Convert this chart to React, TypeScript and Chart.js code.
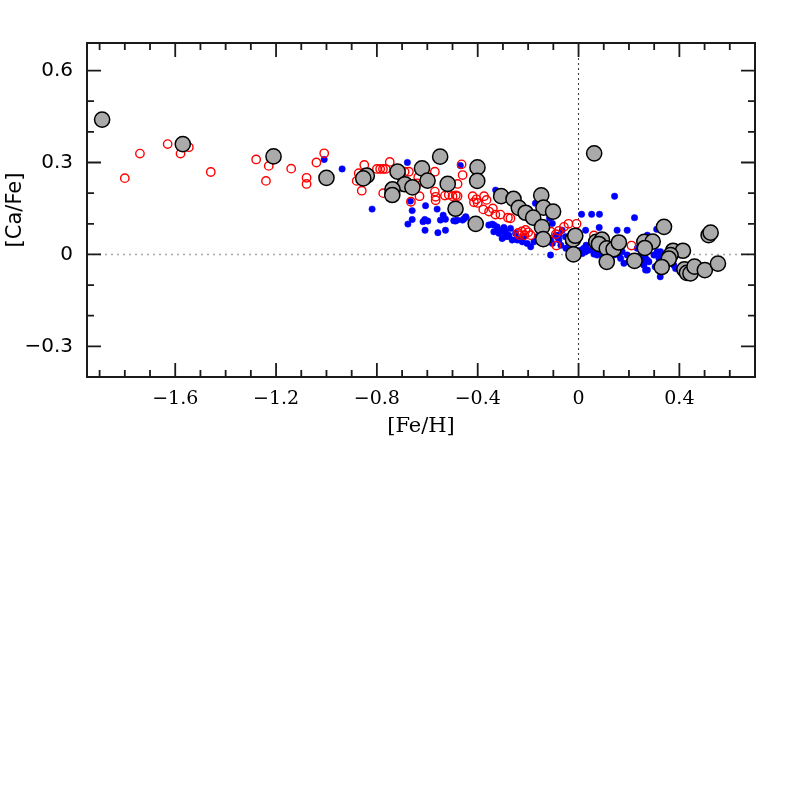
import React, { useEffect, useRef } from "react";
import { Chart, registerables } from "chart.js";

Chart.register(...registerables);

// ---- axis ticks ----
const xMajorTicks = [-1.6, -1.2, -0.8, -0.4, 0, 0.4];
const xTickLabels = ["−1.6", "−1.2", "−0.8", "−0.4", "0", "0.4"];
const xMinorTicks = [-1.9, -1.8, -1.7, -1.5, -1.4, -1.3, -1.1, -1.0, -0.9, -0.7, -0.6, -0.5, -0.3, -0.2, -0.1, 0.1, 0.2, 0.3, 0.5, 0.6];
const yMajorTicks = [-0.3, 0, 0.3, 0.6];
const yTickLabels = ["−0.3", "0", "0.3", "0.6"];
const yMinorTicks = [-0.2, -0.1, 0.1, 0.2, 0.4, 0.5];

// ---- data: [Fe/H], [Ca/Fe] ----
const blueStars: [number, number][] = [
  [-1.009, 0.31], [-0.938, 0.279], [-0.819, 0.148], [-0.679, 0.3], [-0.469, 0.29], [-0.329, 0.21], [-0.171, 0.167],
  [-0.667, 0.174], [-0.66, 0.143], [-0.66, 0.114], [-0.677, 0.099], [-0.607, 0.159], [-0.61, 0.114], [-0.617, 0.107],
  [-0.598, 0.109], [-0.609, 0.079], [-0.558, 0.071], [-0.528, 0.079], [-0.561, 0.148], [-0.537, 0.128], [-0.548, 0.112],
  [-0.528, 0.115], [-0.488, 0.109], [-0.495, 0.11], [-0.455, 0.116], [-0.446, 0.121], [-0.46, 0.112], [-0.448, 0.123],
  [-0.481, 0.112],
  [-0.356, 0.096], [-0.336, 0.096], [-0.323, 0.09], [-0.316, 0.079], [-0.296, 0.088], [-0.29, 0.074], [-0.27, 0.085],
  [-0.25, 0.069], [-0.243, 0.052], [-0.217, 0.058], [-0.204, 0.036], [-0.19, 0.025], [-0.164, 0.058], [-0.138, 0.074],
  [-0.111, 0.047], [-0.104, 0.036], [-0.085, 0.058], [-0.111, -0.002], [-0.303, 0.052], [-0.277, 0.058], [-0.263, 0.047],
  [-0.223, 0.041], [-0.177, 0.041], [-0.343, 0.099], [-0.336, 0.074], [-0.316, 0.069], [-0.296, 0.074], [-0.29, 0.058],
  [-0.277, 0.063], [-0.243, 0.047],
  [-0.115, 0.118], [-0.104, 0.101], [-0.091, 0.063], [-0.078, 0.063], [-0.065, 0.079], [-0.052, 0.058], [-0.078, 0.047],
  [-0.07, 0.03], [-0.05, 0.02], [-0.04, 0.04], [-0.03, 0.015],
  [0.143, 0.19], [0.012, 0.131], [0.052, 0.131], [0.083, 0.131], [0.222, 0.12], [0.082, 0.088], [0.153, 0.079],
  [0.193, 0.079], [0.028, 0.079],
  [0.061, 0.014], [0.153, 0.025], [0.173, 0.009], [0.14, -0.002], [0.167, -0.013], [0.18, -0.029], [0.233, 0.02],
  [0.246, -0.002], [0.273, -0.019], [0.259, -0.035], [0.273, -0.051], [0.312, 0.009], [0.319, -0.013], [0.304, -0.04],
  [0.324, -0.073],
  [0.008, 0.014], [0.021, 0.02], [0.028, 0.009], [0.015, 0.003], [0.041, 0.014], [0.061, 0.001], [0.074, -0.002],
  [0.16, -0.002], [0.193, -0.002], [0.2, -0.024], [0.253, -0.002], [0.266, -0.013], [0.279, -0.024], [0.266, -0.051],
  [0.325, -0.008], [0.127, -0.03], [0.31, 0.082], [0.273, 0.063], [0.325, 0.009], [0.299, -0.002], [0.253, -0.019],
  [0.378, -0.035], [0.385, -0.046], [0.03, 0.03], [0.1, 0.02], [0.11, 0.01], [0.09, 0.0],
];

const redStars: [number, number][] = [
  [-1.8, 0.249], [-1.74, 0.329], [-1.63, 0.36], [-1.579, 0.329], [-1.546, 0.35], [-1.459, 0.269], [-1.279, 0.31],
  [-1.229, 0.289], [-1.24, 0.24], [-1.14, 0.28], [-1.079, 0.25], [-1.079, 0.23], [-1.04, 0.3], [-1.009, 0.33],
  [-0.85, 0.292], [-0.872, 0.265], [-0.88, 0.24], [-0.86, 0.208], [-0.8, 0.279], [-0.787, 0.279], [-0.776, 0.279],
  [-0.765, 0.279], [-0.749, 0.302], [-0.775, 0.2], [-0.69, 0.27], [-0.673, 0.27], [-0.636, 0.252], [-0.64, 0.232],
  [-0.665, 0.172], [-0.631, 0.19], [-0.57, 0.27], [-0.57, 0.205], [-0.567, 0.188], [-0.567, 0.177], [-0.53, 0.192],
  [-0.515, 0.195], [-0.5, 0.19], [-0.487, 0.193], [-0.464, 0.294], [-0.46, 0.259], [-0.48, 0.23], [-0.48, 0.19],
  [-0.42, 0.19], [-0.405, 0.18], [-0.415, 0.17], [-0.4, 0.168], [-0.375, 0.19], [-0.365, 0.178], [-0.378, 0.147],
  [-0.355, 0.14], [-0.34, 0.15], [-0.33, 0.13], [-0.31, 0.13], [-0.28, 0.12], [-0.27, 0.118], [-0.24, 0.07],
  [-0.225, 0.075], [-0.21, 0.08], [-0.2, 0.072], [-0.235, 0.063], [-0.215, 0.063], [-0.19, 0.063], [-0.11, 0.074],
  [-0.09, 0.066], [-0.088, 0.029], [-0.078, 0.077], [-0.058, 0.09], [-0.04, 0.1], [-0.008, 0.1], [0.061, 0.062],
  [0.21, 0.029],
];

const grayStars: [number, number][] = [
  [-1.89, 0.44], [-1.57, 0.36], [-1.21, 0.32], [-1.0, 0.25], [-0.84, 0.257], [-0.854, 0.248], [-0.718, 0.27],
  [-0.549, 0.319], [-0.621, 0.281], [-0.599, 0.241], [-0.689, 0.229], [-0.659, 0.219], [-0.738, 0.212], [-0.739, 0.194],
  [-0.519, 0.23], [-0.488, 0.149], [-0.401, 0.284], [-0.402, 0.24], [-0.408, 0.1], [-0.307, 0.19], [-0.258, 0.181],
  [-0.237, 0.152], [-0.21, 0.136], [-0.148, 0.193], [-0.139, 0.153], [-0.101, 0.14], [-0.18, 0.12], [-0.145, 0.089],
  [-0.14, 0.05], [-0.022, 0.049], [-0.013, 0.061], [-0.02, 0.0], [0.062, 0.33], [0.07, 0.041], [0.093, 0.048],
  [0.081, 0.034], [0.112, 0.02], [0.139, 0.017], [0.16, 0.039], [0.112, -0.024], [0.222, -0.021], [0.261, 0.041],
  [0.294, 0.042], [0.263, 0.021], [0.339, 0.09], [0.516, 0.063], [0.524, 0.071], [0.375, 0.012], [0.414, 0.012],
  [0.365, -0.002], [0.358, -0.014], [0.33, -0.041], [0.42, -0.049], [0.43, -0.06], [0.444, -0.062], [0.46, -0.04],
  [0.501, -0.051], [0.553, -0.03],
];

const toPts = (arr: [number, number][]) => arr.map(([x, y]) => ({ x, y }));

const framePlugin = {
  id: "frame",
  beforeDatasetsDraw(chart: any) {
    const { ctx, chartArea: a, scales } = chart;
    const xs = scales.x, ys = scales.y;
    ctx.save();
    const y0 = ys.getPixelForValue(0);
    ctx.strokeStyle = "#a8a8a8";
    ctx.lineWidth = 1.5;
    ctx.setLineDash([2, 4]);
    ctx.beginPath();
    ctx.moveTo(a.left, y0);
    ctx.lineTo(a.right, y0);
    ctx.stroke();
    const x0 = xs.getPixelForValue(0);
    ctx.strokeStyle = "#333";
    ctx.lineWidth = 1;
    ctx.setLineDash([2, 3]);
    ctx.beginPath();
    ctx.moveTo(x0, a.top);
    ctx.lineTo(x0, a.bottom);
    ctx.stroke();
    ctx.restore();
  },
  afterDraw(chart: any) {
    const { ctx, chartArea: a, scales } = chart;
    const xs = scales.x, ys = scales.y;
    ctx.save();
    ctx.strokeStyle = "#1a1a1a";
    ctx.lineWidth = 1.8;
    ctx.setLineDash([]);
    const tick = (vals: number[], len: number) => {
      vals.forEach((v) => {
        const px = xs.getPixelForValue(v);
        ctx.beginPath();
        ctx.moveTo(px, a.bottom); ctx.lineTo(px, a.bottom - len);
        ctx.moveTo(px, a.top); ctx.lineTo(px, a.top + len);
        ctx.stroke();
      });
    };
    const ytick = (vals: number[], len: number) => {
      vals.forEach((v) => {
        const py = ys.getPixelForValue(v);
        ctx.beginPath();
        ctx.moveTo(a.left, py); ctx.lineTo(a.left + len, py);
        ctx.moveTo(a.right, py); ctx.lineTo(a.right - len, py);
        ctx.stroke();
      });
    };
    tick(xMajorTicks, 14);
    tick(xMinorTicks, 7);
    ytick(yMajorTicks, 14);
    ytick(yMinorTicks, 7);
    ctx.lineWidth = 2;
    ctx.strokeRect(a.left, a.top, a.right - a.left, a.bottom - a.top);
    ctx.restore();
  },
};

export default function App() {
  const ref = useRef<HTMLCanvasElement | null>(null);
  useEffect(() => {
    if (!ref.current) return;
    const chart = new Chart(ref.current, {
      type: "scatter",
      data: {
        datasets: [
          {
            label: "gray",
            data: toPts(grayStars),
            order: 0,
            pointRadius: 7.6,
            pointBackgroundColor: "#aaaaaa",
            pointBorderColor: "#000000",
            pointBorderWidth: 1.5,
          },
          {
            label: "red",
            data: toPts(redStars),
            order: 1,
            pointRadius: 4.2,
            pointBackgroundColor: "rgba(0,0,0,0)",
            pointBorderColor: "#ff0000",
            pointBorderWidth: 1.4,
          },
          {
            label: "blue",
            data: toPts(blueStars),
            order: 2,
            pointRadius: 3.2,
            pointBackgroundColor: "#0000ff",
            pointBorderColor: "#0000ff",
            pointBorderWidth: 0.5,
          },
        ],
      },
      options: {
        animation: false,
        responsive: false,
        events: [],
        layout: { padding: { left: 0, top: 43, right: 42, bottom: 357 } },
        plugins: { legend: { display: false }, tooltip: { enabled: false } },
        scales: {
          x: {
            type: "linear",
            min: -1.95,
            max: 0.7,
            grid: { display: false, drawTicks: false },
            border: { display: false },
            afterBuildTicks: (s: any) => {
              s.ticks = xMajorTicks.map((v) => ({ value: v }));
            },
            afterFit: (s: any) => {
              s.height = 63;
            },
            ticks: {
              padding: 11,
              maxRotation: 0,
              autoSkip: false,
              color: "#000",
              font: { family: "DejaVu Serif", size: 19 },
              callback: (_v: any, i: number) => xTickLabels[i],
            },
            title: {
              display: true,
              text: "[Fe/H]",
              color: "#000",
              font: { family: "DejaVu Serif", size: 21 },
              padding: { top: 0, bottom: 1 },
            },
          },
          y: {
            type: "linear",
            min: -0.4,
            max: 0.69,
            grid: { display: false, drawTicks: false },
            border: { display: false },
            afterBuildTicks: (s: any) => {
              s.ticks = yMajorTicks.map((v) => ({ value: v }));
            },
            afterFit: (s: any) => {
              s.width = 87;
            },
            ticks: {
              padding: 14,
              autoSkip: false,
              color: "#000",
              font: { family: "DejaVu Sans", size: 20 },
              callback: (_v: any, i: number) => yTickLabels[i],
            },
            title: {
              display: true,
              text: "[Ca/Fe]",
              color: "#000",
              font: { family: "DejaVu Sans", size: 21 },
              padding: { top: 3, bottom: 0 },
            },
          },
        },
      },
      plugins: [framePlugin],
    });
    return () => chart.destroy();
  }, []);
  return (
    <div style={{ position: "absolute", left: 0, top: 0, width: 797, height: 797, background: "#fff" }}>
      <canvas ref={ref} width={797} height={797} />
    </div>
  );
}
